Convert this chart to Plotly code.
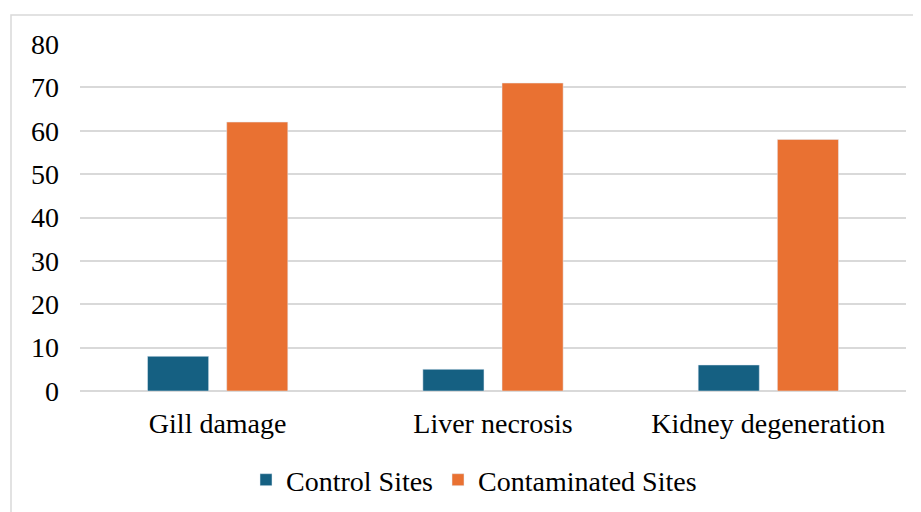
import plotly.graph_objects as go

categories = ["Gill damage", "Liver necrosis", "Kidney degeneration"]
control = [8, 5, 6]
contaminated = [62, 71, 58]
y_ticks = [0, 10, 20, 30, 40, 50, 60, 70, 80]

# page body adds an 8px offset; the figure is sized to compensate
W, H = 913, 504
L, R, T, B = 72, 15, 36, 121
pw, ph = W - L - R, H - T - B

fig = go.Figure()
fig.add_trace(go.Bar(name="Control Sites", x=categories, y=control, marker_color="#156082"))
fig.add_trace(go.Bar(name="Contaminated Sites", x=categories, y=contaminated, marker_color="#E97132"))

font = dict(family="Liberation Serif", size=28, color="#000000")

fig.update_layout(
    width=W, height=H,
    margin=dict(l=L, r=R, t=T, b=B, autoexpand=False),
    paper_bgcolor="white", plot_bgcolor="white",
    barmode="group", bargap=0.425, bargroupgap=0.228,
    font=font,
    showlegend=True,
    legend=dict(orientation="h", x=(466 - L) / pw, xanchor="center",
                y=(H - B - 472) / ph, yanchor="middle",
                font=font, itemwidth=30,
                bgcolor="rgba(0,0,0,0)"),
    xaxis=dict(showgrid=False, showline=False, ticks="", tickfont=font,
               ticklabelstandoff=13, automargin=False),
    yaxis=dict(range=[0, 80], tickvals=y_ticks, showgrid=True, gridcolor="#d9d9d9",
               gridwidth=1.5, zeroline=True, zerolinecolor="#d9d9d9", zerolinewidth=1.5,
               showline=False, ticks="", tickfont=font, ticklabelstandoff=20,
               automargin=False),
    shapes=[dict(type="rect", xref="paper", yref="paper",
                 x0=(3 - L) / pw, x1=(W + 10 - L) / pw,
                 y0=(H - B - (H + 10)) / ph, y1=(H - B - 7) / ph,
                 line=dict(color="#d9d9d9", width=1.5), fillcolor="rgba(0,0,0,0)", layer="below")],
)

fig.write_html("out.html")
